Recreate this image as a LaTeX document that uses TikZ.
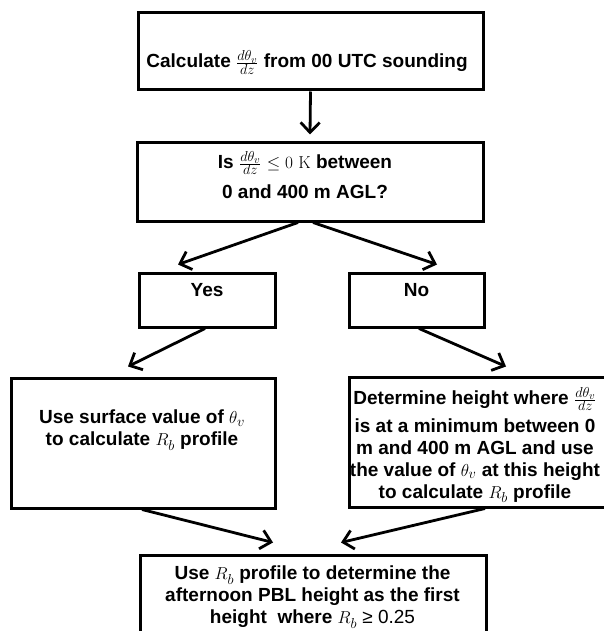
\documentclass[tikz,border=0pt]{standalone}
\usepackage[no-math]{fontspec}
\setmainfont{Liberation Sans}
\DeclareMathSizes{19}{19}{14}{11}
\usetikzlibrary{arrows.meta}
\tikzset{
  box/.style={draw, line width=3pt, inner sep=0pt},
  boxtext/.style={anchor=north, align=center, inner sep=0pt,
    font=\bfseries\fontsize{19}{22}\selectfont},
  arr/.style={line width=2.8pt, -{Straight Barb[length=10pt,width=19pt]}}
}
\newcommand{\dthetadz}{$\frac{d\theta_v}{dz}$}

\begin{document}
\begin{tikzpicture}[x=1pt, y=-1pt]
\useasboundingbox (0,0) rectangle (604,631);
% boxes
\node[box, minimum width=345pt, minimum height=77pt] (calc) at (310.5,51.5) {};
\node[box, minimum width=346pt, minimum height=78pt] (check) at (310,182) {};
\node[box, minimum width=136pt, minimum height=54pt] (yes) at (207,300) {};
\node[box, minimum width=135pt, minimum height=54pt] (no) at (416.5,300) {};
\node[box, minimum width=264pt, minimum height=130pt] (surface) at (143,443) {};
\node[box, minimum width=262pt, minimum height=130pt] (minimum) at (480,442) {};
\node[box, minimum width=346pt, minimum height=90pt] (pbl) at (313,600) {};
% texts
\node[boxtext, anchor=base] (calctext) at (307,68) {Calculate \dthetadz{} from 00 UTC sounding};
\node[boxtext] (checktext) at (305,151) {Is \dthetadz{} $\leq 0~\mathrm{K}$ between\\[8pt] 0 and 400 m AGL?};
\node[boxtext, anchor=base] (yestext) at (207,296) {Yes};
\node[boxtext, anchor=base] (notext) at (416.5,296) {No};
\node[boxtext] (surfacetext) at (142,410) {Use surface value of $\theta_v$\\ to calculate $R_b$ profile};
\node[boxtext] (minimumtext) at (475,387) {Determine height where \dthetadz\\[6pt]
  is at a minimum between 0\\ m and 400 m AGL and use\\
  the value of $\theta_v$ at this height\\ to calculate $R_b$ profile};
\node[boxtext] (pbltext) at (312.5,566) {Use $R_b$ profile to determine the\\
  afternoon PBL height as the first\\ height~ where $R_b$ {\mdseries ≥ 0.25}};
% arrows
\draw[arr] (calc.south) -- ([yshift=7pt]check.north);
\draw[arr] ([xshift=-12pt]check.south) -- ([xshift=-29pt,yshift=7pt]yes.north);
\draw[arr] ([xshift=3pt]check.south) -- ([xshift=20.5pt,yshift=7pt]no.north);
\draw[arr] ([xshift=-2pt]yes.south) -- ([xshift=-15pt,yshift=10pt]surface.north);
\draw[arr] ([xshift=2.5pt]no.south) -- ([xshift=26pt,yshift=9pt]minimum.north);
\draw[arr] ([xshift=-1pt]surface.south) -- ([xshift=-40pt,yshift=11pt]pbl.north);
\draw[arr] ([xshift=5pt]minimum.south) -- ([xshift=28pt,yshift=11pt]pbl.north);
\end{tikzpicture}
\end{document}
